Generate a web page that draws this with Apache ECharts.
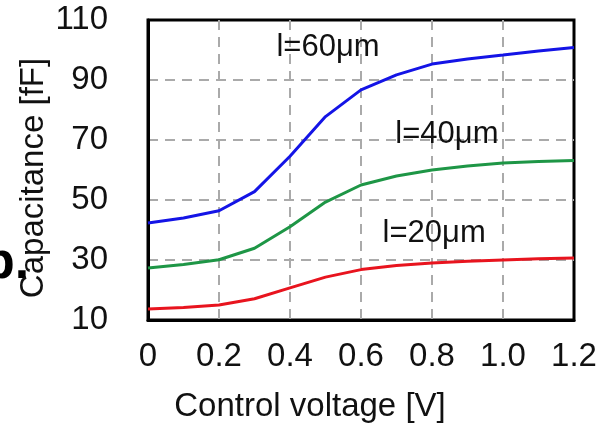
<!DOCTYPE html>
<html>
<head>
<meta charset="utf-8">
<script src="https://cdn.jsdelivr.net/npm/echarts@6/dist/echarts.min.js"></script>
<style>
  html, body { margin: 0; padding: 0; background: #fff; }
  #chart { width: 596px; height: 427px; }
</style>
</head>
<body>
<div id="chart"></div>
<script>
// control voltage [V]
var voltages = [0, 0.1, 0.2, 0.3, 0.4, 0.5, 0.6, 0.7, 0.8, 0.9, 1.0, 1.1, 1.2];
// capacitance [fF] for each gate length
var cap60 = [42.3, 44, 46.4, 52.8, 64.6, 77.8, 86.7, 91.7, 95.3, 97, 98.3, 99.7, 100.8];
var cap40 = [27.3, 28.5, 30.1, 33.9, 41.1, 49.3, 55, 58, 60, 61.3, 62.3, 62.8, 63.2];
var cap20 = [13.7, 14.2, 15, 17.1, 20.7, 24.3, 26.8, 28.2, 29, 29.6, 30, 30.4, 30.7];
var seriesNames = ["l=60\u03bcm", "l=40\u03bcm", "l=20\u03bcm"];

function pairs(ys) {
  return voltages.map(function (v, i) { return [v, ys[i]]; });
}

var myChart = echarts.init(document.getElementById("chart"));
var font = "Liberation Sans, Arial, sans-serif";

function curve(name, ys, color, labelAt) {
  return {
    name: name,
    type: "line",
    data: pairs(ys),
    symbol: "none",
    z: 3,
    lineStyle: { color: color, width: 3 },
    markPoint: {
      symbol: "circle",
      symbolSize: 0,
      data: [{ coord: labelAt }],
      label: {
        show: true,
        formatter: name,
        position: "inside",
        color: "#111",
        fontFamily: font,
        fontSize: 31
      }
    }
  };
}

var gridLine = { color: "#aaa", width: 2, type: [10, 7] };

var option = {
  animation: false,
  grid: {
    left: 148,
    right: 22,
    top: 20,
    bottom: 107,
    outerBoundsMode: "none",
    containLabel: false,
    show: true,
    borderColor: "#000",
    borderWidth: 3,
    backgroundColor: "transparent"
  },
  xAxis: {
    type: "value",
    min: 0,
    max: 1.2,
    interval: 0.2,
    name: "Control voltage [V]",
    nameLocation: "middle",
    nameGap: 70,
    nameMoveOverlap: false,
    nameTextStyle: { fontFamily: font, fontSize: 33, color: "#111", padding: [0, 102, 0, 0] },
    axisLine: { show: true, lineStyle: { color: "#000", width: 3 } },
    axisTick: { show: false },
    axisLabel: {
      margin: 20,
      fontFamily: font,
      fontSize: 33,
      color: "#111",
      formatter: function (v) { return v === 0 ? "0" : v.toFixed(1); }
    },
    splitLine: { show: true, showMinLine: false, showMaxLine: false, lineStyle: gridLine }
  },
  yAxis: {
    type: "value",
    min: 10,
    max: 110,
    interval: 20,
    name: "Capacitance [fF]",
    nameLocation: "middle",
    nameGap: 98,
    nameMoveOverlap: false,
    nameTextStyle: { fontFamily: font, fontSize: 33, color: "#111", padding: [0, 16, 0, 0] },
    axisLine: { show: true, lineStyle: { color: "#000", width: 3 } },
    axisTick: { show: false },
    axisLabel: {
      margin: 40,
      fontFamily: font,
      fontSize: 33,
      color: "#111"
    },
    splitLine: { show: true, showMinLine: false, showMaxLine: false, lineStyle: gridLine }
  },
  graphic: [
    {
      type: "text",
      left: -17,
      top: 238,
      z: 0,
      style: {
        text: "b.",
        fontFamily: font,
        fontWeight: "bold",
        fontSize: 52,
        fill: "#000"
      }
    }
  ],
  series: [
    curve(seriesNames[0], cap60, "#1414e6", [0.507, 100.7]),
    curve(seriesNames[1], cap40, "#1e9646", [0.842, 71.7]),
    curve(seriesNames[2], cap20, "#e8141e", [0.806, 39])
  ]
};

myChart.setOption(option);
window.addEventListener("resize", myChart.resize);
</script>
</body>
</html>
